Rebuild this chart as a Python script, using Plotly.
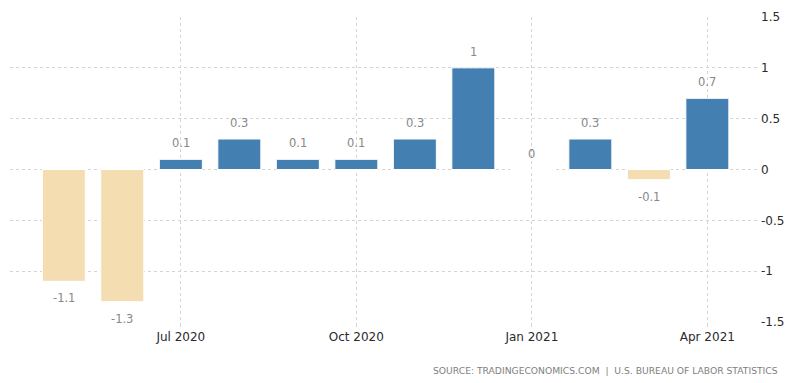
import plotly.graph_objects as go

months = ["May 2020", "Jun 2020", "Jul 2020", "Aug 2020", "Sep 2020", "Oct 2020",
          "Nov 2020", "Dec 2020", "Jan 2021", "Feb 2021", "Mar 2021", "Apr 2021"]
values = [-1.1, -1.3, 0.1, 0.3, 0.1, 0.1, 0.3, 1.0, 0.0, 0.3, -0.1, 0.7]
tick_months = ["Jul 2020", "Oct 2020", "Jan 2021", "Apr 2021"]
y_ticks = [-1.5, -1, -0.5, 0, 0.5, 1, 1.5]
y_tick_labels = ["-1.5", "-1", "-0.5", "0", "0.5", "1", "1.5"]

BLUE = "#447FB2"
BEIGE = "#F3DDB1"
colors = [BLUE if v >= 0 else BEIGE for v in values]

fig = go.Figure()
fig.add_trace(go.Bar(
    x=months, y=values, marker=dict(color=colors, line=dict(color="white", width=1)),
    hoverinfo="x+y",
))

for m, v in zip(months, values):
    label = ("%g" % v)
    fig.add_annotation(
        x=m, y=v, text=label, showarrow=False,
        yanchor="bottom" if v >= 0 else "top",
        yshift=7 if v >= 0 else -8,
        font=dict(family="DejaVu Sans", size=11.5, color="#888888"),
    )

fig.add_annotation(
    xref="paper", yref="paper", x=1.027, y=-0.16, xanchor="right", yanchor="middle",
    text="SOURCE: TRADINGECONOMICS.COM  |  U.S. BUREAU OF LABOR STATISTICS",
    showarrow=False, font=dict(family="DejaVu Sans", size=9.2, color="#808080"),
)

fig.update_layout(
    width=800, height=383,
    margin=dict(l=2, r=48, t=9, b=69, autoexpand=False),
    plot_bgcolor="white", paper_bgcolor="white",
    bargap=0.265, showlegend=False,
    xaxis=dict(
        type="category", categoryorder="array", categoryarray=months,
        range=[-0.92, 11.9],
        tickmode="array", tickvals=tick_months, ticktext=tick_months,
        showgrid=True, gridcolor="#d4d4d4", griddash="dot", gridwidth=1,
        zeroline=False, showline=False, ticks="outside", ticklen=4, tickcolor="#d4d4d4",
        tickfont=dict(family="DejaVu Sans", size=12, color="#2a2a2a"),
    ),
    yaxis=dict(
        side="right", range=[-1.5, 1.5],
        tickmode="array", tickvals=y_ticks, ticktext=y_tick_labels,
        showgrid=True, gridcolor="#d4d4d4", griddash="dot", gridwidth=1,
        zeroline=False, showline=False, ticks="",
        tickfont=dict(family="DejaVu Sans", size=12, color="#2a2a2a"),
    ),
)

fig.write_html("out.html")
